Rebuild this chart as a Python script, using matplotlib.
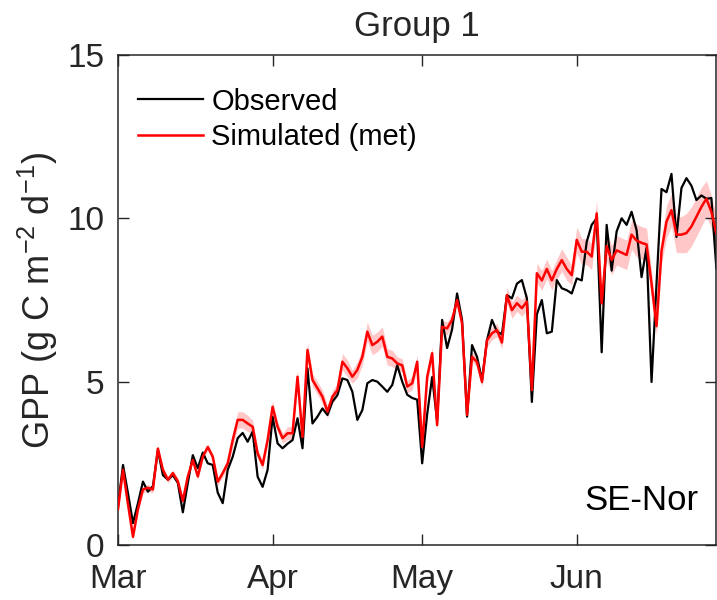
import numpy as np
import pandas as pd
import matplotlib
matplotlib.use("Agg")
import matplotlib.pyplot as plt
import matplotlib.dates as mdates

# daily GPP, 1 Mar - 29 Jun
obs = [1.2, 2.45, 1.58, 0.67, 1.28, 1.94, 1.63, 1.8, 2.9, 2.14,
       2.0, 2.14, 1.9, 1.0, 1.9, 2.75, 2.35, 2.83, 2.5, 2.45,
       1.6, 1.28, 2.3, 2.7, 3.27, 3.43, 3.16, 3.47, 2.09, 1.78,
       2.3, 3.93, 3.11, 2.96, 3.1, 3.21, 3.88, 2.96, 5.41, 3.72,
       3.93, 4.18, 3.98, 4.39, 4.59, 5.1, 5.05, 4.69, 3.83, 4.13,
       4.95, 5.05, 5.0, 4.85, 4.69, 4.9, 5.5, 5.0, 4.6, 4.5,
       4.45, 2.5, 4.0, 5.14, 3.8, 6.89, 6.03, 6.6, 7.7, 6.89,
       3.93, 6.12, 5.76, 5.05, 6.27, 6.89, 6.53, 6.45, 7.65, 7.55,
       8.0, 8.11, 7.55, 4.38, 7.06, 7.5, 6.48, 6.53, 8.11, 7.86,
       7.8, 7.7, 8.16, 8.1, 9.28, 9.8, 10.0, 5.9, 9.8, 8.4,
       9.6, 10.0, 9.8, 10.2, 9.64, 8.2, 9.1, 4.99, 8.0, 10.9,
       10.8, 11.36, 9.43, 10.93, 11.23, 11.0, 10.56, 10.7, 10.6, 10.62,
       8.47]

sim = [1.1, 2.3, 1.25, 0.25, 1.1, 1.7, 1.75, 1.7, 2.95, 2.3,
       2.0, 2.2, 1.95, 1.35, 2.1, 2.6, 2.1, 2.7, 3.0, 2.7,
       1.94, 2.2, 2.5, 3.21, 3.83, 3.83, 3.72, 3.62, 2.8, 2.45,
       3.21, 4.23, 3.62, 3.27, 3.42, 3.42, 5.15, 3.31, 5.97, 5.05,
       4.8, 4.54, 4.08, 4.54, 4.74, 5.61, 5.41, 5.15, 5.36, 5.76,
       6.53, 6.12, 6.22, 6.38, 5.76, 5.71, 5.56, 5.5, 4.85, 4.95,
       5.61, 3.0, 5.14, 5.87, 3.67, 6.68, 6.63, 6.89, 7.5, 6.79,
       3.98, 5.76, 5.6, 4.99, 6.27, 6.48, 6.58, 6.2, 7.65, 7.19,
       7.4, 7.25, 7.45, 4.74, 8.32, 8.1, 8.45, 8.1, 8.45, 8.72,
       8.45, 8.26, 9.34, 8.98, 8.98, 8.83, 10.15, 7.4, 9.15, 8.72,
       9.02, 8.95, 8.88, 9.5, 9.32, 9.25, 9.2, 8.0, 6.7, 9.0,
       9.9, 10.25, 9.5, 9.5, 9.55, 9.75, 10.05, 10.35, 10.6, 10.2,
       9.55]

# half width of the simulated range
spread = [0.1] * 20 + [
    0.12, 0.12, 0.15, 0.2, 0.25, 0.25, 0.25, 0.2, 0.15, 0.15,
    0.15, 0.2, 0.15, 0.15, 0.2, 0.2, 0.2, 0.15, 0.25, 0.2,
    0.2, 0.2, 0.2, 0.2, 0.2, 0.25, 0.25, 0.2, 0.25, 0.25,
    0.3, 0.3, 0.3, 0.3, 0.25, 0.25, 0.2, 0.2, 0.2, 0.2,
    0.2, 0.2, 0.2, 0.2, 0.15, 0.2, 0.2, 0.2, 0.2, 0.2,
    0.15, 0.15, 0.15, 0.15, 0.2, 0.2, 0.2, 0.2, 0.25, 0.25,
    0.25, 0.25, 0.25, 0.2, 0.3, 0.3, 0.3, 0.3, 0.3, 0.35,
    0.35, 0.3, 0.4, 0.4, 0.4, 0.4, 0.4, 0.3, 0.45, 0.45,
    0.45, 0.45, 0.45, 0.45, 0.5, 0.5, 0.5, 0.4, 0.3, 0.4,
    0.5, 0.5, 0.55, 0.55, 0.6, 0.6, 0.6, 0.6, 0.55, 0.5, 0.5]

dates = pd.date_range("2017-03-01", periods=len(obs), freq="D")
obs = np.array(obs)
sim = np.array(sim)
spread = np.array(spread)

plt.rcParams["font.family"] = ["Liberation Sans", "DejaVu Sans"]
plt.rcParams["mathtext.default"] = "regular"
txt = "#262626"

fig = plt.figure(figsize=(7.17, 6.0), dpi=100)
ax = fig.add_axes((0.1646, 0.0917, 0.8345, 0.8166))

ax.fill_between(dates, sim - spread, sim + spread, color="red", alpha=0.22,
                linewidth=0, zorder=1)
ax.plot(dates, obs, color="black", lw=1.6, label="Observed", zorder=2)
ax.plot(dates, sim, color="red", lw=1.8, label="Simulated (met)", zorder=3)

ax.set_xlim(pd.Timestamp("2017-03-01"), pd.Timestamp("2017-06-29"))
ax.set_ylim(0, 15)
ax.set_yticks([0, 5, 10, 15])
ax.xaxis.set_major_locator(mdates.MonthLocator())
ax.xaxis.set_major_formatter(mdates.DateFormatter("%b"))

ax.tick_params(direction="in", length=8, width=1, top=True, right=True,
               labelsize=24, colors=txt)
ax.tick_params(axis="x", pad=14)
ax.tick_params(axis="y", pad=10)
for s in ax.spines.values():
    s.set_color(txt)
    s.set_linewidth(1.1)

ax.set_ylabel("GPP (g C m$^{-2}$ d$^{-1}$)", fontsize=26, color=txt, labelpad=5)
ax.set_title("Group 1", fontsize=25, color=txt, pad=14)
ax.legend(loc="upper left", frameon=False, fontsize=21, handlelength=2.2,
          handletextpad=0.3, borderaxespad=0.3, labelspacing=0.25,
          bbox_to_anchor=(0.0, 0.975))
ax.text(0.97, 0.09, "SE-Nor", transform=ax.transAxes, ha="right", va="center",
        fontsize=25, color="black")

fig.savefig("out.png", dpi=100)
